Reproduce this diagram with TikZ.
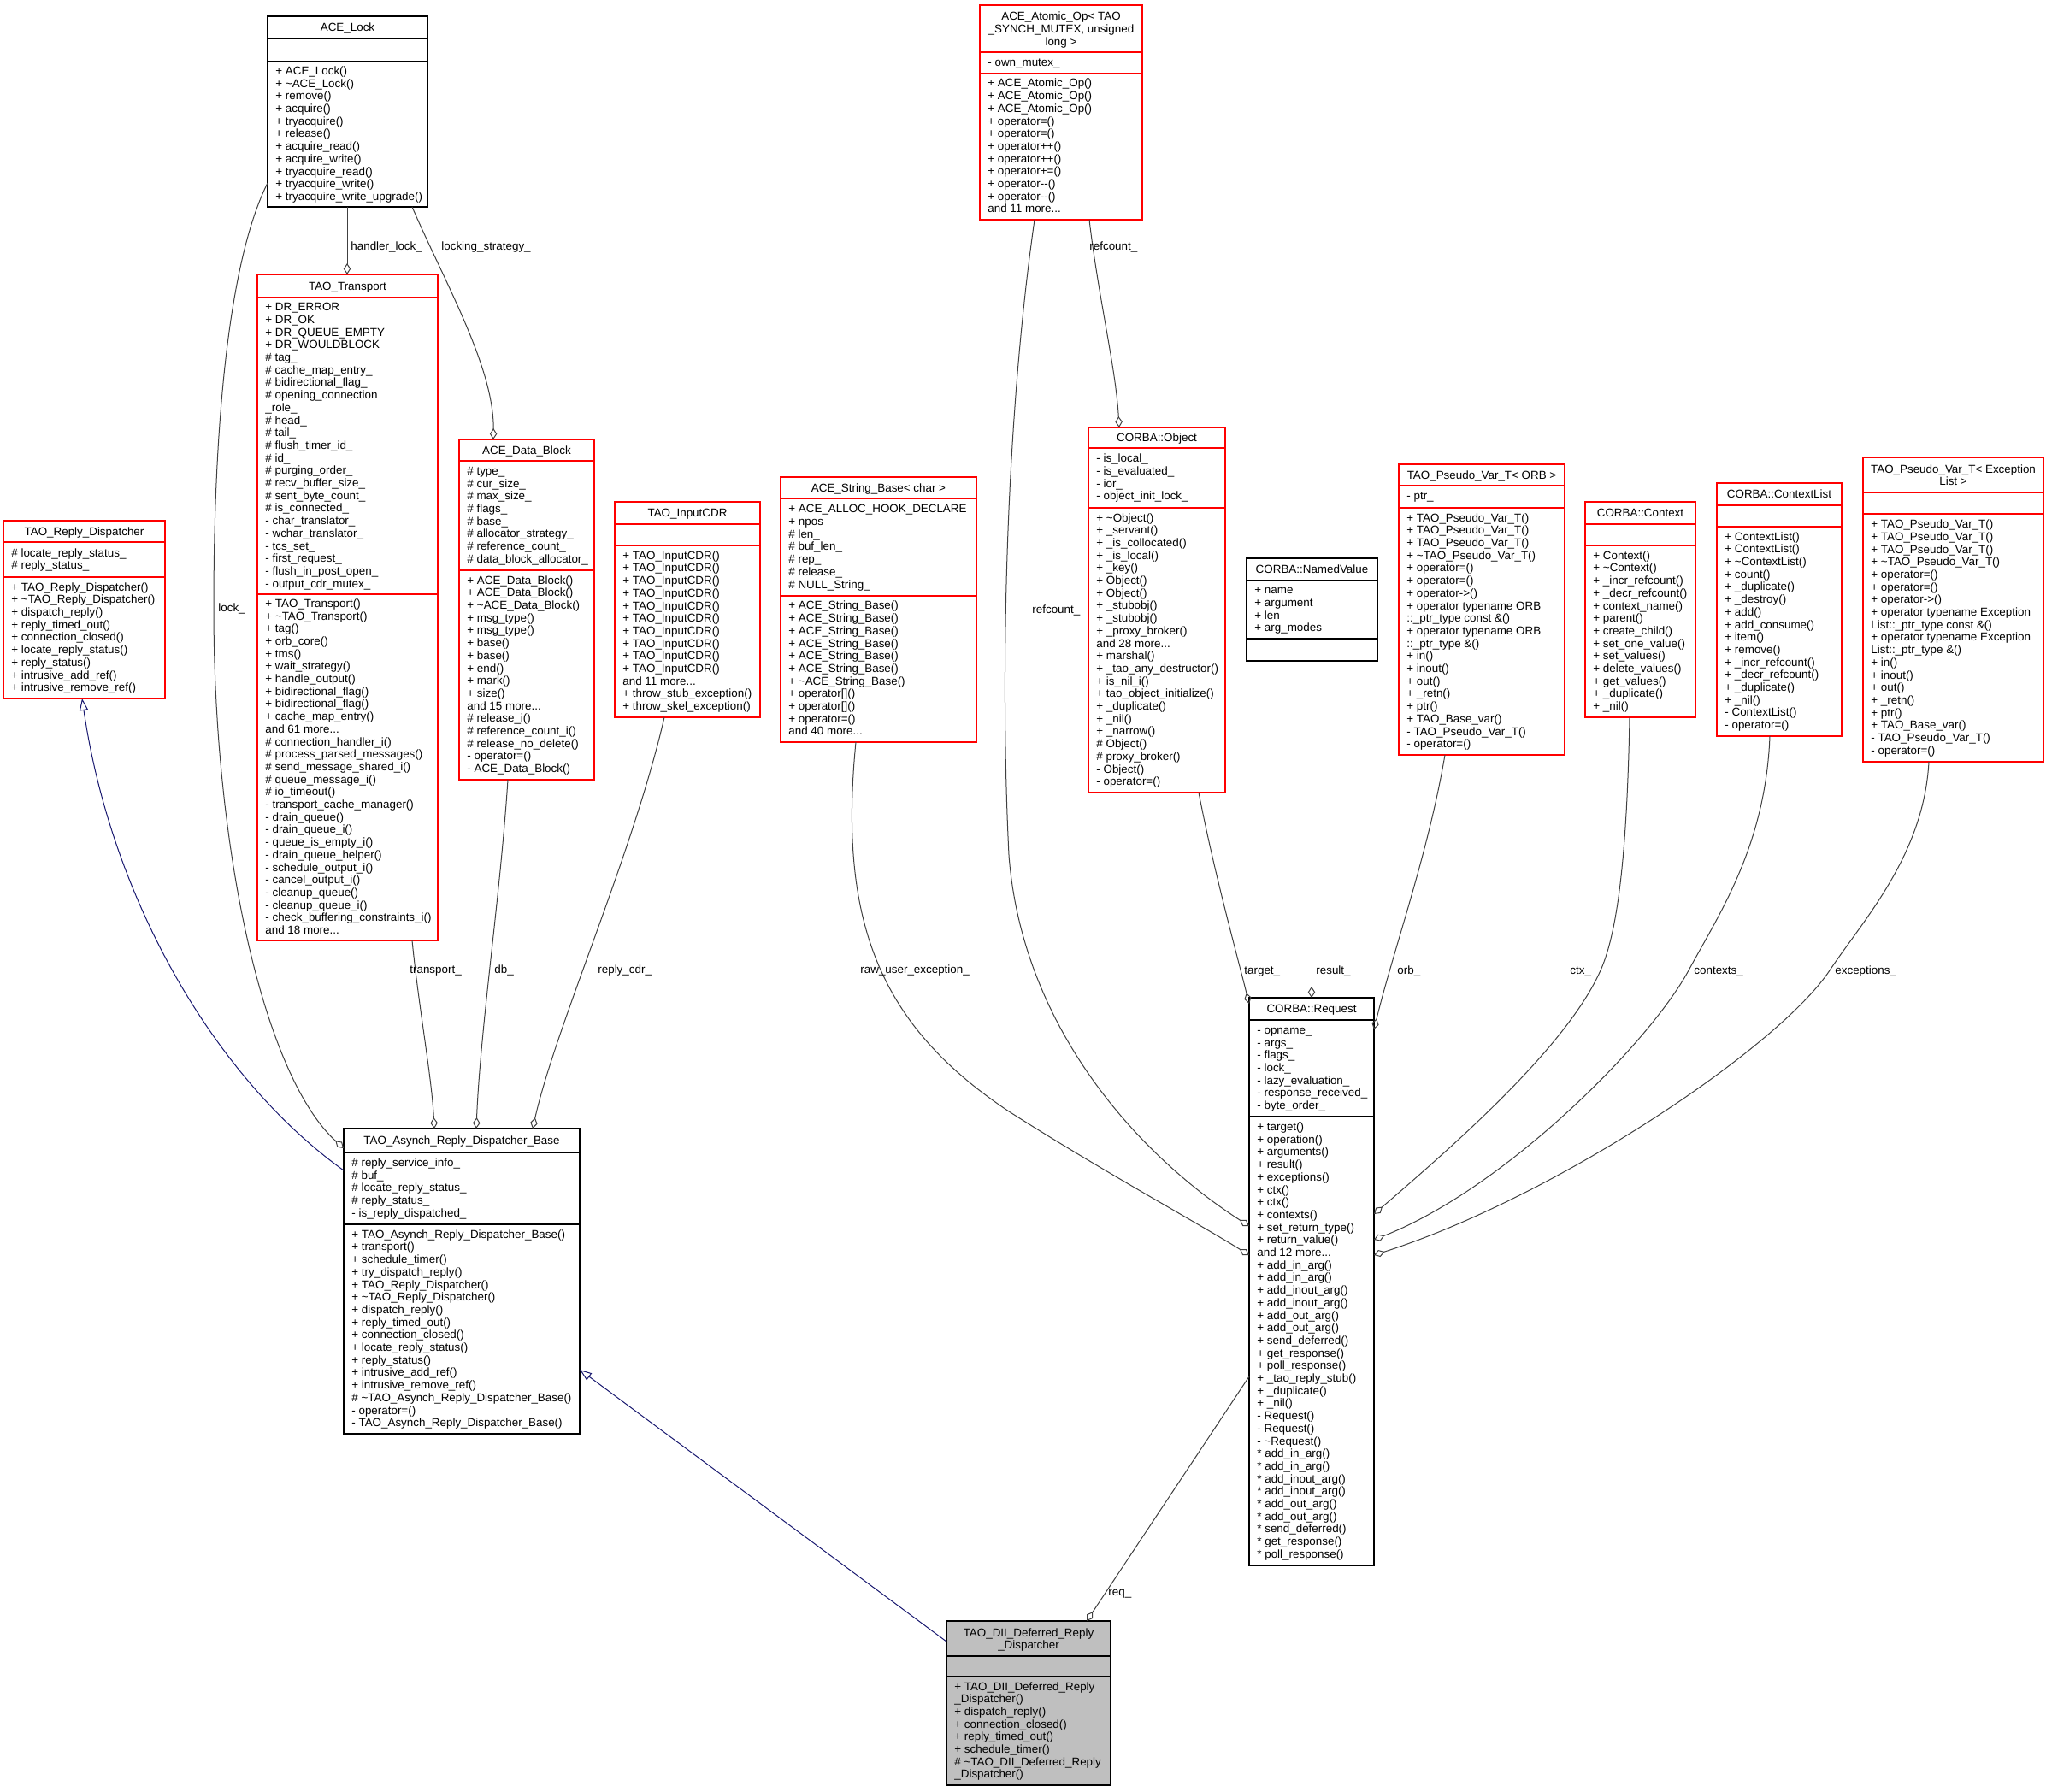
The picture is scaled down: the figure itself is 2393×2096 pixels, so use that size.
\documentclass[tikz,border=0pt]{standalone}
\usepackage{fontspec}
\setmainfont{Liberation Sans}
\usetikzlibrary{arrows.meta,fit,calc}
\definecolor{edgegray}{HTML}{404040}
\definecolor{inhblue}{HTML}{191970}
\definecolor{diifill}{HTML}{BFBFBF}
\definecolor{boxred}{HTML}{FF0000}
\newcommand\cfont{\fontsize{6.7}{7.35}\selectfont}
\newcommand\tld{\textasciitilde}
\tikzset{
  box/.style={draw, line width=0.55pt, inner sep=0pt, outer sep=0pt, fill=white},
  ttl/.style={inner sep=0pt, align=center, font=\cfont, anchor=center},
  lst/.style={inner sep=0pt, align=left, font=\cfont, anchor=west, xshift=4.5pt},
  elabel/.style={inner sep=0pt, font=\cfont, anchor=base west},
  comp/.style={draw=edgegray, line width=0.5pt, -{Diamond[open, length=6.5pt, width=4.2pt, line width=0.5pt]}},
  inh/.style={draw=inhblue, line width=0.5pt, -{Triangle[open, length=7pt, width=5pt, line width=0.5pt]}}
}
% name, L, T, R, B, colour, fill
\newcommand\cbox[7]{\node[box, draw=#6, fill=#7, fit={(#2,#3)(#4,#5)}] (#1) {};}
% name, y, colour
\newcommand\csep[3]{\draw[line width=0.55pt, draw=#3] (#1.west |- 0,#2) -- (#1.east |- 0,#2);}
% name, y1, y2, text
\newcommand\ctitle[4]{\pgfmathsetmacro\ymid{(#2+#3)/2+2}\node[ttl] (#1-t) at (#1.north |- 0,\ymid) {\strut #4\strut};}
% name, suffix, y1, y2, text
\newcommand\clist[5]{\pgfmathsetmacro\ymid{(#3+#4)/2+1}\node[lst] (#1-#2) at (#1.west |- 0,\ymid) {\strut #5\strut};}

\begin{document}
\begin{tikzpicture}[x=0.5pt, y=-0.5pt]
\useasboundingbox (0,0) rectangle (2393,2096);
\fill[white] (0,0) rectangle (2393,2096);

% ---------- ACE_Lock ----------
\cbox{lock}{313}{19}{500}{242}{black}{white}
\csep{lock}{45}{black}\csep{lock}{72}{black}
\ctitle{lock}{19}{45}{ACE\_Lock}
\clist{lock}{m}{72}{242}{+ ACE\_Lock()\\+ \tld ACE\_Lock()\\+ remove()\\+ acquire()\\+ tryacquire()\\+ release()\\+ acquire\_read()\\+ acquire\_write()\\+ tryacquire\_read()\\+ tryacquire\_write()\\+ tryacquire\_write\_upgrade()}

% ---------- TAO_Transport ----------
\cbox{tr}{301}{321}{512}{1100}{boxred}{white}
\csep{tr}{348}{boxred}\csep{tr}{695}{boxred}
\ctitle{tr}{321}{348}{TAO\_Transport}
\clist{tr}{a}{348}{695}{+ DR\_ERROR\\+ DR\_OK\\+ DR\_QUEUE\_EMPTY\\+ DR\_WOULDBLOCK\\\# tag\_\\\# cache\_map\_entry\_\\\# bidirectional\_flag\_\\\# opening\_connection\\\_role\_\\\# head\_\\\# tail\_\\\# flush\_timer\_id\_\\\# id\_\\\# purging\_order\_\\\# recv\_buffer\_size\_\\\# sent\_byte\_count\_\\\# is\_connected\_\\- char\_translator\_\\- wchar\_translator\_\\- tcs\_set\_\\- first\_request\_\\- flush\_in\_post\_open\_\\- output\_cdr\_mutex\_}
\clist{tr}{m}{695}{1100}{+ TAO\_Transport()\\+ \tld TAO\_Transport()\\+ tag()\\+ orb\_core()\\+ tms()\\+ wait\_strategy()\\+ handle\_output()\\+ bidirectional\_flag()\\+ bidirectional\_flag()\\+ cache\_map\_entry()\\and 61 more...\\\# connection\_handler\_i()\\\# process\_parsed\_messages()\\\# send\_message\_shared\_i()\\\# queue\_message\_i()\\\# io\_timeout()\\- transport\_cache\_manager()\\- drain\_queue()\\- drain\_queue\_i()\\- queue\_is\_empty\_i()\\- drain\_queue\_helper()\\- schedule\_output\_i()\\- cancel\_output\_i()\\- cleanup\_queue()\\- cleanup\_queue\_i()\\- check\_buffering\_constraints\_i()\\and 18 more...}

% ---------- TAO_Reply_Dispatcher ----------
\cbox{rd}{4}{609}{193}{817}{boxred}{white}
\csep{rd}{634}{boxred}\csep{rd}{675}{boxred}
\ctitle{rd}{609}{634}{TAO\_Reply\_Dispatcher}
\clist{rd}{a}{634}{675}{\# locate\_reply\_status\_\\\# reply\_status\_}
\clist{rd}{m}{675}{817}{+ TAO\_Reply\_Dispatcher()\\+ \tld TAO\_Reply\_Dispatcher()\\+ dispatch\_reply()\\+ reply\_timed\_out()\\+ connection\_closed()\\+ locate\_reply\_status()\\+ reply\_status()\\+ intrusive\_add\_ref()\\+ intrusive\_remove\_ref()}

% ---------- ACE_Data_Block ----------
\cbox{db}{537}{514}{695}{912}{boxred}{white}
\csep{db}{539}{boxred}\csep{db}{667}{boxred}
\ctitle{db}{514}{539}{ACE\_Data\_Block}
\clist{db}{a}{539}{667}{\# type\_\\\# cur\_size\_\\\# max\_size\_\\\# flags\_\\\# base\_\\\# allocator\_strategy\_\\\# reference\_count\_\\\# data\_block\_allocator\_}
\clist{db}{m}{667}{912}{+ ACE\_Data\_Block()\\+ ACE\_Data\_Block()\\+ \tld ACE\_Data\_Block()\\+ msg\_type()\\+ msg\_type()\\+ base()\\+ base()\\+ end()\\+ mark()\\+ size()\\and 15 more...\\\# release\_i()\\\# reference\_count\_i()\\\# release\_no\_delete()\\- operator=()\\- ACE\_Data\_Block()}

% ---------- TAO_InputCDR ----------
\cbox{cdr}{719}{587}{889}{839}{boxred}{white}
\csep{cdr}{613}{boxred}\csep{cdr}{638}{boxred}
\ctitle{cdr}{587}{613}{TAO\_InputCDR}
\clist{cdr}{m}{638}{839}{+ TAO\_InputCDR()\\+ TAO\_InputCDR()\\+ TAO\_InputCDR()\\+ TAO\_InputCDR()\\+ TAO\_InputCDR()\\+ TAO\_InputCDR()\\+ TAO\_InputCDR()\\+ TAO\_InputCDR()\\+ TAO\_InputCDR()\\+ TAO\_InputCDR()\\and 11 more...\\+ throw\_stub\_exception()\\+ throw\_skel\_exception()}

% ---------- ACE_String_Base ----------
\cbox{str}{913}{558}{1142}{868}{boxred}{white}
\csep{str}{583}{boxred}\csep{str}{697}{boxred}
\ctitle{str}{558}{583}{ACE\_String\_Base< char >}
\clist{str}{a}{583}{697}{+ ACE\_ALLOC\_HOOK\_DECLARE\\+ npos\\\# len\_\\\# buf\_len\_\\\# rep\_\\\# release\_\\\# NULL\_String\_}
\clist{str}{m}{697}{868}{+ ACE\_String\_Base()\\+ ACE\_String\_Base()\\+ ACE\_String\_Base()\\+ ACE\_String\_Base()\\+ ACE\_String\_Base()\\+ ACE\_String\_Base()\\+ \tld ACE\_String\_Base()\\+ operator[]()\\+ operator[]()\\+ operator=()\\and 40 more...}

% ---------- ACE_Atomic_Op ----------
\cbox{atom}{1146}{6}{1336}{257}{boxred}{white}
\csep{atom}{61}{boxred}\csep{atom}{86}{boxred}
\ctitle{atom}{6}{61}{ACE\_Atomic\_Op< TAO\\\_SYNCH\_MUTEX, unsigned\\long >}
\clist{atom}{a}{61}{86}{- own\_mutex\_}
\clist{atom}{m}{86}{257}{+ ACE\_Atomic\_Op()\\+ ACE\_Atomic\_Op()\\+ ACE\_Atomic\_Op()\\+ operator=()\\+ operator=()\\+ operator++()\\+ operator++()\\+ operator+=()\\+ operator-{}-()\\+ operator-{}-()\\and 11 more...}

% ---------- CORBA::Object ----------
\cbox{obj}{1273}{500}{1433}{927}{boxred}{white}
\csep{obj}{524}{boxred}\csep{obj}{594}{boxred}
\ctitle{obj}{500}{524}{CORBA::Object}
\clist{obj}{a}{524}{594}{- is\_local\_\\- is\_evaluated\_\\- ior\_\\- object\_init\_lock\_}
\clist{obj}{m}{594}{927}{+ \tld Object()\\+ \_servant()\\+ \_is\_collocated()\\+ \_is\_local()\\+ \_key()\\+ Object()\\+ Object()\\+ \_stubobj()\\+ \_stubobj()\\+ \_proxy\_broker()\\and 28 more...\\+ marshal()\\+ \_tao\_any\_destructor()\\+ is\_nil\_i()\\+ tao\_object\_initialize()\\+ \_duplicate()\\+ \_nil()\\+ \_narrow()\\\# Object()\\\# proxy\_broker()\\- Object()\\- operator=()}

% ---------- CORBA::NamedValue ----------
\cbox{nv}{1458}{653}{1611}{773}{black}{white}
\csep{nv}{679}{black}\csep{nv}{747}{black}
\ctitle{nv}{653}{679}{CORBA::NamedValue}
\clist{nv}{a}{679}{747}{+ name\\+ argument\\+ len\\+ arg\_modes}

% ---------- TAO_Pseudo_Var_T< ORB > ----------
\cbox{pvo}{1636}{543}{1830}{883}{boxred}{white}
\csep{pvo}{568}{boxred}\csep{pvo}{594}{boxred}
\ctitle{pvo}{543}{568}{TAO\_Pseudo\_Var\_T< ORB >}
\clist{pvo}{a}{568}{594}{- ptr\_}
\clist{pvo}{m}{594}{883}{+ TAO\_Pseudo\_Var\_T()\\+ TAO\_Pseudo\_Var\_T()\\+ TAO\_Pseudo\_Var\_T()\\+ \tld TAO\_Pseudo\_Var\_T()\\+ operator=()\\+ operator=()\\+ operator->()\\+ operator typename ORB\\::\_ptr\_type const \&()\\+ operator typename ORB\\::\_ptr\_type \&()\\+ in()\\+ inout()\\+ out()\\+ \_retn()\\+ ptr()\\+ TAO\_Base\_var()\\- TAO\_Pseudo\_Var\_T()\\- operator=()}

% ---------- CORBA::Context ----------
\cbox{ctx}{1854}{587}{1983}{839}{boxred}{white}
\csep{ctx}{613}{boxred}\csep{ctx}{638}{boxred}
\ctitle{ctx}{587}{613}{CORBA::Context}
\clist{ctx}{m}{638}{839}{+ Context()\\+ \tld Context()\\+ \_incr\_refcount()\\+ \_decr\_refcount()\\+ context\_name()\\+ parent()\\+ create\_child()\\+ set\_one\_value()\\+ set\_values()\\+ delete\_values()\\+ get\_values()\\+ \_duplicate()\\+ \_nil()}

% ---------- CORBA::ContextList ----------
\cbox{cl}{2008}{565}{2154}{861}{boxred}{white}
\csep{cl}{591}{boxred}\csep{cl}{616}{boxred}
\ctitle{cl}{565}{591}{CORBA::ContextList}
\clist{cl}{m}{616}{861}{+ ContextList()\\+ ContextList()\\+ \tld ContextList()\\+ count()\\+ \_duplicate()\\+ \_destroy()\\+ add()\\+ add\_consume()\\+ item()\\+ remove()\\+ \_incr\_refcount()\\+ \_decr\_refcount()\\+ \_duplicate()\\+ \_nil()\\- ContextList()\\- operator=()}

% ---------- TAO_Pseudo_Var_T< Exception List > ----------
\cbox{pve}{2179}{535}{2390}{891}{boxred}{white}
\csep{pve}{576}{boxred}\csep{pve}{601}{boxred}
\ctitle{pve}{535}{576}{TAO\_Pseudo\_Var\_T< Exception\\List >}
\clist{pve}{m}{601}{891}{+ TAO\_Pseudo\_Var\_T()\\+ TAO\_Pseudo\_Var\_T()\\+ TAO\_Pseudo\_Var\_T()\\+ \tld TAO\_Pseudo\_Var\_T()\\+ operator=()\\+ operator=()\\+ operator->()\\+ operator typename Exception\\List::\_ptr\_type const \&()\\+ operator typename Exception\\List::\_ptr\_type \&()\\+ in()\\+ inout()\\+ out()\\+ \_retn()\\+ ptr()\\+ TAO\_Base\_var()\\- TAO\_Pseudo\_Var\_T()\\- operator=()}

% ---------- TAO_Asynch_Reply_Dispatcher_Base ----------
\cbox{asy}{402}{1320}{678}{1677}{black}{white}
\csep{asy}{1348}{black}\csep{asy}{1432}{black}
\ctitle{asy}{1320}{1348}{TAO\_Asynch\_Reply\_Dispatcher\_Base}
\clist{asy}{a}{1348}{1432}{\# reply\_service\_info\_\\\# buf\_\\\# locate\_reply\_status\_\\\# reply\_status\_\\- is\_reply\_dispatched\_}
\clist{asy}{m}{1432}{1677}{+ TAO\_Asynch\_Reply\_Dispatcher\_Base()\\+ transport()\\+ schedule\_timer()\\+ try\_dispatch\_reply()\\+ TAO\_Reply\_Dispatcher()\\+ \tld TAO\_Reply\_Dispatcher()\\+ dispatch\_reply()\\+ reply\_timed\_out()\\+ connection\_closed()\\+ locate\_reply\_status()\\+ reply\_status()\\+ intrusive\_add\_ref()\\+ intrusive\_remove\_ref()\\\# \tld TAO\_Asynch\_Reply\_Dispatcher\_Base()\\- operator=()\\- TAO\_Asynch\_Reply\_Dispatcher\_Base()}

% ---------- CORBA::Request ----------
\cbox{req}{1461}{1167}{1607}{1831}{black}{white}
\csep{req}{1193}{black}\csep{req}{1306}{black}
\ctitle{req}{1167}{1193}{CORBA::Request}
\clist{req}{a}{1193}{1306}{- opname\_\\- args\_\\- flags\_\\- lock\_\\- lazy\_evaluation\_\\- response\_received\_\\- byte\_order\_}
\clist{req}{m}{1306}{1831}{+ target()\\+ operation()\\+ arguments()\\+ result()\\+ exceptions()\\+ ctx()\\+ ctx()\\+ contexts()\\+ set\_return\_type()\\+ return\_value()\\and 12 more...\\+ add\_in\_arg()\\+ add\_in\_arg()\\+ add\_inout\_arg()\\+ add\_inout\_arg()\\+ add\_out\_arg()\\+ add\_out\_arg()\\+ send\_deferred()\\+ get\_response()\\+ poll\_response()\\+ \_tao\_reply\_stub()\\+ \_duplicate()\\+ \_nil()\\- Request()\\- Request()\\- \tld Request()\\{}* add\_in\_arg()\\{}* add\_in\_arg()\\{}* add\_inout\_arg()\\{}* add\_inout\_arg()\\{}* add\_out\_arg()\\{}* add\_out\_arg()\\{}* send\_deferred()\\{}* get\_response()\\{}* poll\_response()}

% ---------- TAO_DII_Deferred_Reply_Dispatcher ----------
\cbox{dii}{1107}{1896}{1299}{2088}{black}{diifill}
\csep{dii}{1937}{black}\csep{dii}{1961}{black}
\ctitle{dii}{1896}{1937}{TAO\_DII\_Deferred\_Reply\\\_Dispatcher}
\clist{dii}{m}{1961}{2088}{+ TAO\_DII\_Deferred\_Reply\\\_Dispatcher()\\+ dispatch\_reply()\\+ connection\_closed()\\+ reply\_timed\_out()\\+ schedule\_timer()\\\# \tld TAO\_DII\_Deferred\_Reply\\\_Dispatcher()}

% ---------- edges ----------
\draw[comp] ($(lock.south west)+(93,0)$) -- ($(tr.north west)+(105,0)$);
\draw[comp] ($(lock.south west)+(169,0)$) .. controls (520,330) and (578,430) .. ($(db.north west)+(40,0)$);
\draw[comp] ($(lock.south west)+(0,-28)$) .. controls (270,300) and (250,480) .. (250,711) .. controls (250,1000) and (310,1260) .. ($(asy.north west)+(0,23)$);
\draw[inh] ($(asy.north west)+(0,49)$) .. controls (250,1260) and (130,1050) .. ($(rd.south west)+(92,0)$);
\draw[comp] ($(tr.south west)+(181,0)$) .. controls (490,1180) and (505,1260) .. ($(asy.north west)+(106,0)$);
\draw[comp] ($(db.south west)+(57,0)$) .. controls (585,1050) and (562,1200) .. ($(asy.north west)+(155,0)$);
\draw[comp] ($(cdr.south west)+(58,0)$) .. controls (740,1000) and (650,1200) .. ($(asy.north west)+(221,0)$);
\draw[inh] ($(dii.north west)+(0,24)$) -- ($(asy.north east)+(0,282)$);
\draw[comp] ($(req.north west)+(0,443)$) -- ($(dii.north west)+(164,0)$);
\draw[comp] ($(str.south west)+(88,0)$) .. controls (980,1080) and (1030,1200) .. (1180,1300) .. controls (1290,1370) and (1400,1430) .. ($(req.north west)+(0,301)$);
\draw[comp] ($(atom.south west)+(64,0)$) .. controls (1175,500) and (1170,800) .. (1180,1000) .. controls (1195,1200) and (1330,1350) .. ($(req.north west)+(0,267)$);
\draw[comp] ($(atom.south west)+(128,0)$) .. controls (1285,350) and (1305,430) .. ($(obj.north west)+(36,0)$);
\draw[comp] ($(obj.south west)+(129,0)$) .. controls (1420,1020) and (1445,1110) .. ($(req.north west)+(0,7)$);
\draw[comp] ($(nv.south west)+(76,0)$) -- ($(req.north west)+(73,0)$);
\draw[comp] ($(pvo.south west)+(54,0)$) .. controls (1670,1000) and (1630,1110) .. ($(req.north east)+(0,37)$);
\draw[comp] ($(ctx.south west)+(52,0)$) .. controls (1903,1000) and (1892,1090) .. (1872,1135) .. controls (1832,1225) and (1700,1340) .. ($(req.north east)+(0,253)$);
\draw[comp] ($(cl.south west)+(62,0)$) .. controls (2065,990) and (2010,1070) .. (1975,1135) .. controls (1929,1220) and (1760,1390) .. ($(req.north east)+(0,283)$);
\draw[comp] ($(pve.south west)+(77,0)$) .. controls (2250,1000) and (2180,1075) .. (2140,1135) .. controls (2080,1225) and (1820,1400) .. ($(req.north east)+(0,301)$);

% ---------- edge labels ----------
\node[elabel] (l-hl) at (410,292.6) {handler\_lock\_};
\node[elabel] (l-ls) at (516,292.6) {locking\_strategy\_};
\node[elabel] (l-lk) at (255,715.6) {lock\_};
\node[elabel] (l-tp) at (479,1138.6) {transport\_};
\node[elabel] (l-db) at (578,1138.6) {db\_};
\node[elabel] (l-rc) at (699,1138.6) {reply\_cdr\_};
\node[elabel] (l-ru) at (1006,1138.6) {raw\_user\_exception\_};
\node[elabel] (l-rf1) at (1207,717.6) {refcount\_};
\node[elabel] (l-rf2) at (1274,292.6) {refcount\_};
\node[elabel] (l-tg) at (1455,1139.6) {target\_};
\node[elabel] (l-rs) at (1539,1139.6) {result\_};
\node[elabel] (l-orb) at (1634,1139.6) {orb\_};
\node[elabel] (l-ctx) at (1836,1139.6) {ctx\_};
\node[elabel] (l-cts) at (1981,1139.6) {contexts\_};
\node[elabel] (l-exc) at (2146,1139.6) {exceptions\_};
\node[elabel] (l-req) at (1296,1866.6) {req\_};

\end{tikzpicture}
\end{document}
